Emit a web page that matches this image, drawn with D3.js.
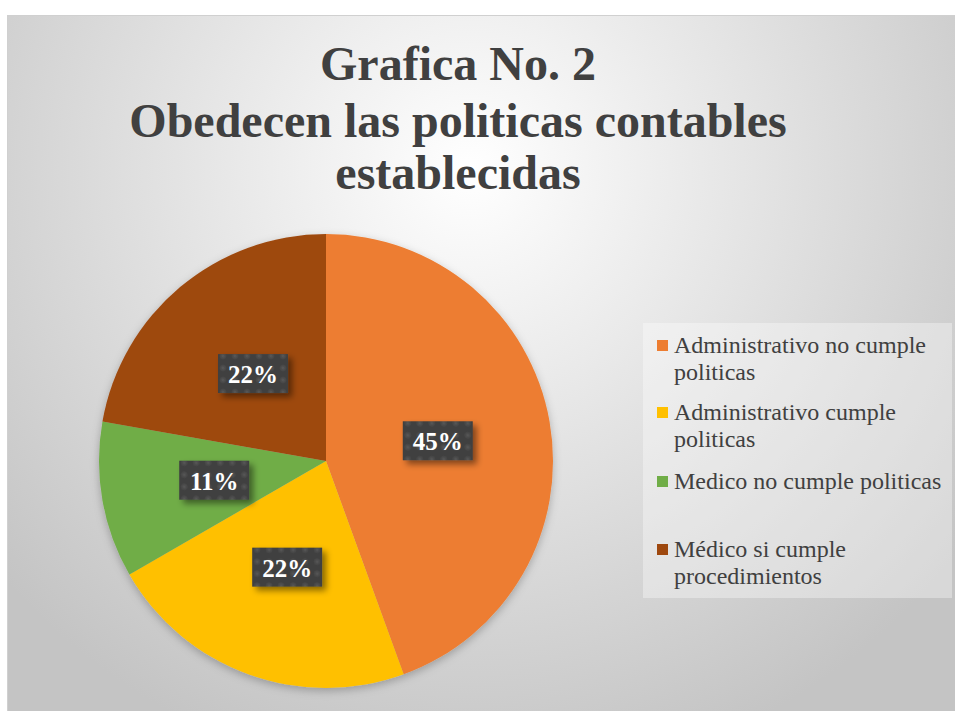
<!DOCTYPE html>
<html><head><meta charset="utf-8">
<script src="https://cdn.jsdelivr.net/npm/d3@7/dist/d3.min.js"></script>
<style>
html,body{margin:0;padding:0;background:#fff;}
svg{display:block;}
svg text{font-family:"Liberation Serif","Times New Roman",serif !important;}
</style>
</head><body>
<script>
const categories = ["Administrativo no cumple politicas","Administrativo cumple politicas","Medico no cumple politicas","Médico si cumple procedimientos"];
const legendLines = [["Administrativo no cumple","politicas"],["Administrativo cumple","politicas"],["Medico no cumple politicas"],["Médico si cumple","procedimientos"]];
const values = [4, 2, 1, 2];
const dataLabels = ["45%", "22%", "11%", "22%"];
const colors = ["#ED7D31","#FFC000","#70AD47","#9E480E"];
const titleLines = ["Grafica No. 2","Obedecen las politicas contables","establecidas"];

const FONT = "Liberation Serif";
const W = 955, H = 711;
const svg = d3.select("body").append("svg").attr("width", W).attr("height", H)
  .style("font-family", FONT);
const defs = svg.append("defs");

const rg = defs.append("radialGradient").attr("id","bg")
  .attr("gradientUnits","userSpaceOnUse").attr("cx",470).attr("cy",170).attr("r",620);
rg.append("stop").attr("offset","0%").attr("stop-color","#ffffff");
rg.append("stop").attr("offset","100%").attr("stop-color","#c4c4c4");

const pat = defs.append("pattern").attr("id","dots").attr("patternUnits","userSpaceOnUse")
  .attr("width",12).attr("height",12);
pat.append("rect").attr("width",12).attr("height",12).attr("fill","#404040");
const dg = defs.append("radialGradient").attr("id","dotg");
dg.append("stop").attr("offset","0%").attr("stop-color","#585858");
dg.append("stop").attr("offset","100%").attr("stop-color","#404040");
pat.append("circle").attr("cx",6).attr("cy",6).attr("r",4).attr("fill","url(#dotg)");

const sh = defs.append("filter").attr("id","shadow").attr("x","-30%").attr("y","-30%").attr("width","170%").attr("height","170%");
sh.append("feDropShadow").attr("dx",4).attr("dy",4).attr("stdDeviation",3).attr("flood-color","#000").attr("flood-opacity",0.45);
const psh = defs.append("filter").attr("id","pshadow").attr("x","-20%").attr("y","-20%").attr("width","140%").attr("height","140%");
psh.append("feDropShadow").attr("dx",0).attr("dy",3).attr("stdDeviation",4).attr("flood-color","#000").attr("flood-opacity",0.25);

// chart area
svg.append("rect").attr("x",7.5).attr("y",15.5).attr("width",W).attr("height",H)
  .attr("fill","url(#bg)").attr("stroke","#d0d0d0").attr("stroke-width",1);

// title
const title = svg.append("text").attr("text-anchor","middle")
  .style("font-family",FONT).attr("font-weight","bold").attr("font-size",48)
  .attr("fill","#404040");
titleLines.forEach((t,i)=>{
  title.append("tspan").attr("x",458).attr("y",[80,137,189][i]).text(t);
});

// pie
const cx = 326, cy = 461, R = 227;
const pie = d3.pie().sort(null).value(d=>d);
const arcs = pie(values);
const arc = d3.arc().innerRadius(0).outerRadius(R);
const g = svg.append("g").attr("transform",`translate(${cx},${cy})`);
g.append("g").attr("filter","url(#pshadow)").selectAll("path").data(arcs).join("path")
  .attr("d",arc).attr("fill",(d,i)=>colors[i]);

const lab = g.selectAll("g.lab").data(arcs).join("g").attr("class","lab")
  .attr("transform",d=>`translate(${arc.centroid(d)})`);
lab.append("rect").attr("x",-35).attr("y",-20).attr("width",70).attr("height",39)
  .attr("fill","url(#dots)").attr("filter","url(#shadow)");
lab.append("text").attr("text-anchor","middle").attr("y",9)
  .style("font-family",FONT).attr("font-weight","bold").attr("font-size",25)
  .attr("fill","#ffffff")
  .text((d,i)=>dataLabels[i]);

// legend
svg.append("rect").attr("x",643).attr("y",323).attr("width",309).attr("height",275)
  .attr("fill","#ffffff").attr("fill-opacity",0.35);
const legY = [353, 420, 489, 557];
const lg = svg.append("g");
categories.forEach((c,i)=>{
  lg.append("rect").attr("x",657).attr("y",legY[i]-13).attr("width",11).attr("height",11).attr("fill",colors[i]);
  const t = lg.append("text").style("font-family",FONT).attr("font-size",24)
    .attr("fill","#404040");
  legendLines[i].forEach((l,j)=>{
    t.append("tspan").attr("x",674).attr("y",legY[i]+j*27).text(l);
  });
});
</script>
</body></html>
